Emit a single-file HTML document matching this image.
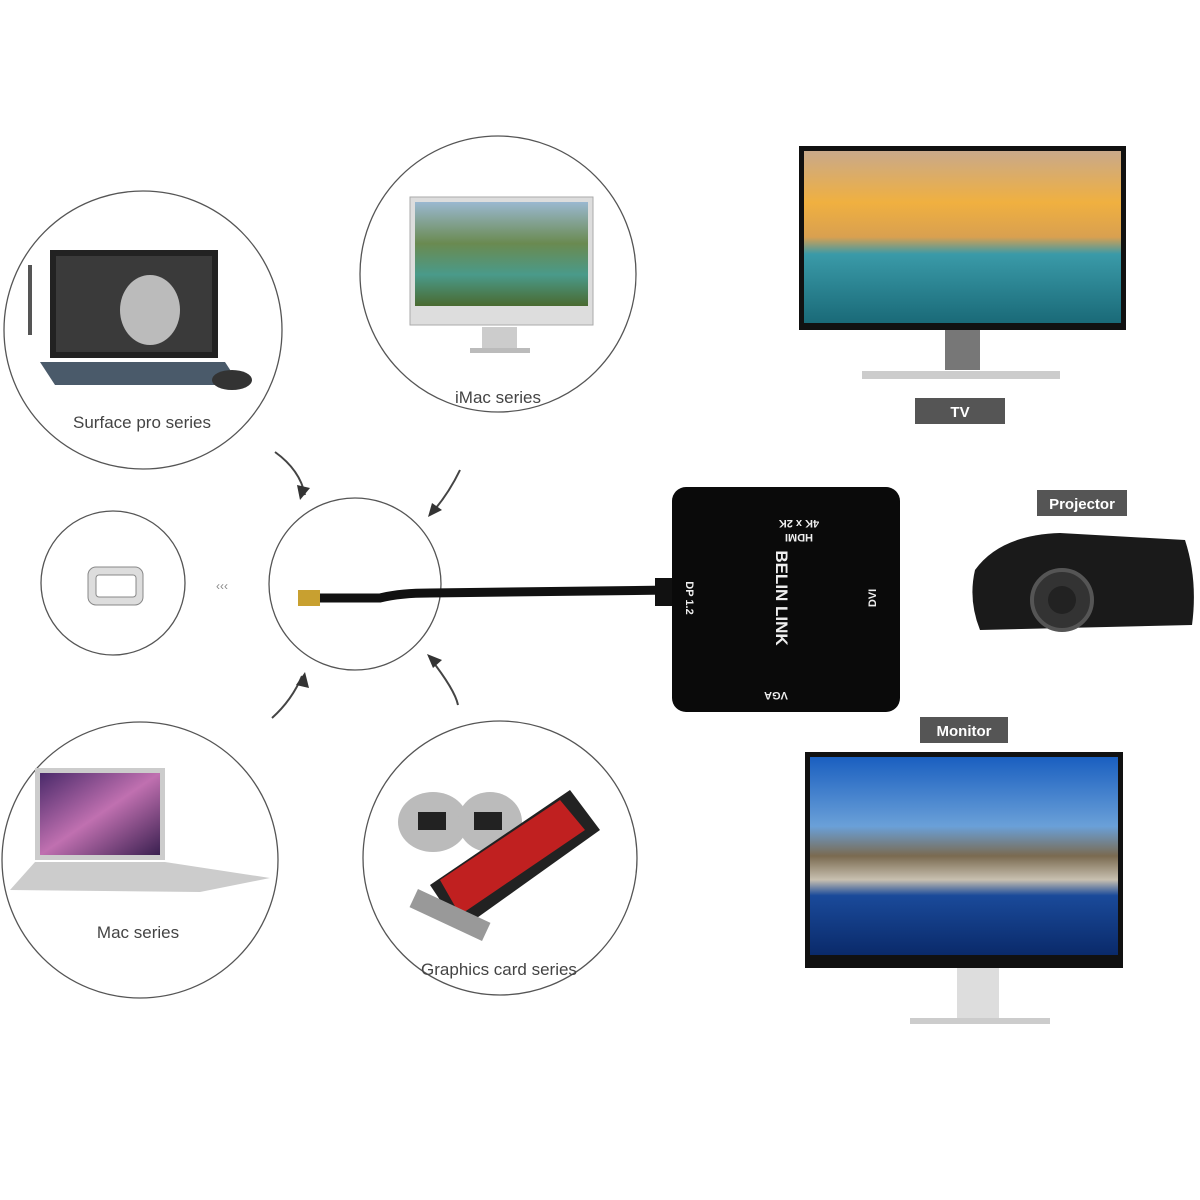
<!DOCTYPE html>
<html><head><meta charset="utf-8"><style>
html,body{margin:0;padding:0;background:#fff}
svg{display:block}
</style></head><body>
<svg width="1200" height="1200" viewBox="0 0 1200 1200" xmlns="http://www.w3.org/2000/svg" font-family="Liberation Sans, sans-serif">
<defs>
<linearGradient id="tv" x1="0" y1="0" x2="0" y2="1">
<stop offset="0" stop-color="#c9a98a"/><stop offset="0.3" stop-color="#f0b040"/><stop offset="0.5" stop-color="#d9a050"/><stop offset="0.6" stop-color="#3a9aa8"/><stop offset="1" stop-color="#1a6a78"/></linearGradient>
<linearGradient id="mon" x1="0" y1="0" x2="0" y2="1">
<stop offset="0" stop-color="#1a5fc0"/><stop offset="0.35" stop-color="#6aa0d8"/><stop offset="0.5" stop-color="#7a6a50"/><stop offset="0.62" stop-color="#c8c0b0"/><stop offset="0.7" stop-color="#1a4a9a"/><stop offset="1" stop-color="#0a2a6a"/></linearGradient>
<linearGradient id="imac" x1="0" y1="0" x2="0" y2="1">
<stop offset="0" stop-color="#9ab8d0"/><stop offset="0.4" stop-color="#6a8a50"/><stop offset="0.7" stop-color="#4a9a8a"/><stop offset="1" stop-color="#4a6a30"/></linearGradient>
<linearGradient id="macs" x1="0" y1="0" x2="1" y2="1">
<stop offset="0" stop-color="#4a2a6a"/><stop offset="0.5" stop-color="#c070b0"/><stop offset="1" stop-color="#3a2050"/></linearGradient>
</defs>
<g fill="none" stroke="#555" stroke-width="1.3">
<circle cx="143" cy="330" r="139"/>
<circle cx="498" cy="274" r="138"/>
<circle cx="113" cy="583" r="72"/>
<circle cx="355" cy="584" r="86"/>
<circle cx="140" cy="860" r="138"/>
<circle cx="500" cy="858" r="137"/>
</g>
<!-- surface -->
<rect x="50" y="250" width="168" height="108" fill="#222"/>
<rect x="56" y="256" width="156" height="96" fill="#3a3a3a"/>
<ellipse cx="150" cy="310" rx="30" ry="35" fill="#bbb"/>
<polygon points="40,362 225,362 240,385 55,385" fill="#4a5a6a"/>
<rect x="28" y="265" width="4" height="70" fill="#555"/>
<ellipse cx="232" cy="380" rx="20" ry="10" fill="#333"/>
<!-- imac -->
<rect x="410" y="197" width="183" height="128" fill="#ddd" stroke="#aaa"/>
<rect x="415" y="202" width="173" height="104" fill="url(#imac)"/>
<rect x="482" y="327" width="35" height="22" fill="#ccc"/>
<rect x="470" y="348" width="60" height="5" fill="#bbb"/>
<!-- small port -->
<rect x="88" y="567" width="55" height="38" rx="8" fill="#ddd" stroke="#888"/>
<rect x="96" y="575" width="40" height="22" rx="3" fill="#fff" stroke="#888"/>
<text x="222" y="590" font-size="12" fill="#888" text-anchor="middle">‹‹‹</text>
<!-- mac -->
<rect x="35" y="768" width="130" height="92" fill="#ccc"/>
<rect x="40" y="773" width="120" height="82" fill="url(#macs)"/>
<polygon points="35,862 165,862 270,878 200,892 10,890" fill="#ccc"/>
<!-- graphics card -->
<ellipse cx="433" cy="822" rx="35" ry="30" fill="#bbb"/>
<ellipse cx="490" cy="822" rx="32" ry="30" fill="#bbb"/>
<rect x="418" y="812" width="28" height="18" fill="#222"/>
<rect x="474" y="812" width="28" height="18" fill="#222"/>
<polygon points="430,885 570,790 600,830 460,930" fill="#222"/>
<polygon points="440,880 560,800 585,830 460,915" fill="#c02020"/>
<rect x="410" y="905" width="80" height="20" fill="#999" transform="rotate(25 450 915)"/>
<!-- labels -->
<g font-size="17" fill="#444" text-anchor="middle">
<text x="142" y="428">Surface pro series</text>
<text x="498" y="403">iMac series</text>
<text x="138" y="938">Mac series</text>
<text x="499" y="975">Graphics card series</text>
</g>
<!-- arrows -->
<g fill="none" stroke="#444" stroke-width="2">
<path d="M275 452 Q300 470 305 495"/><path d="M460 470 Q448 495 430 515"/>
<path d="M272 718 Q292 700 302 676"/><path d="M458 705 Q455 690 430 658"/>
</g>
<g fill="#333">
<polygon points="300,500 297,485 310,488"/><polygon points="428,517 432,503 442,510"/>
<polygon points="305,672 296,685 309,688"/><polygon points="427,654 433,668 442,660"/>
</g>
<!-- cable -->
<rect x="298" y="590" width="22" height="16" fill="#c8a030"/>
<path d="M320 598 L380 598 Q400 593 430 593 L672 590" stroke="#111" stroke-width="9" fill="none"/>
<rect x="655" y="578" width="20" height="28" fill="#111"/>
<!-- adapter -->
<rect x="672" y="487" width="228" height="225" rx="14" fill="#0a0a0a"/>
<g fill="#eee" font-weight="bold">
<text transform="translate(776,598) rotate(90)" text-anchor="middle" font-size="17">BELIN LINK</text>
<text transform="translate(799,520) rotate(180)" text-anchor="middle" font-size="11">4K x 2K</text>
<text transform="translate(799,534) rotate(180)" text-anchor="middle" font-size="11">HDMI</text>
<text transform="translate(686,598) rotate(90)" text-anchor="middle" font-size="11">DP 1.2</text>
<text transform="translate(876,598) rotate(-90)" text-anchor="middle" font-size="11">DVI</text>
<text transform="translate(776,692) rotate(180)" text-anchor="middle" font-size="11">VGA</text>
</g>
<!-- TV -->
<rect x="799" y="146" width="327" height="184" fill="#111"/>
<rect x="804" y="151" width="317" height="172" fill="url(#tv)"/>
<rect x="945" y="330" width="35" height="40" fill="#777"/>
<rect x="862" y="371" width="198" height="8" fill="#ccc"/>
<rect x="915" y="398" width="90" height="26" fill="#555"/>
<text x="960" y="417" font-size="15" font-weight="bold" fill="#fff" text-anchor="middle">TV</text>
<!-- projector -->
<rect x="1037" y="490" width="90" height="26" fill="#555"/>
<text x="1082" y="509" font-size="15" font-weight="bold" fill="#fff" text-anchor="middle">Projector</text>
<path d="M975 570 Q1000 535 1060 533 L1185 540 Q1198 580 1192 625 L980 630 Q968 600 975 570Z" fill="#1a1a1a"/>
<circle cx="1062" cy="600" r="30" fill="#333" stroke="#555" stroke-width="4"/>
<circle cx="1062" cy="600" r="14" fill="#222"/>
<!-- monitor -->
<rect x="920" y="717" width="88" height="26" fill="#555"/>
<text x="964" y="736" font-size="15" font-weight="bold" fill="#fff" text-anchor="middle">Monitor</text>
<rect x="805" y="752" width="318" height="216" fill="#111"/>
<rect x="810" y="757" width="308" height="198" fill="url(#mon)"/>
<rect x="957" y="968" width="42" height="55" fill="#ddd"/>
<rect x="910" y="1018" width="140" height="6" fill="#ccc"/>
</svg>
</body></html>
